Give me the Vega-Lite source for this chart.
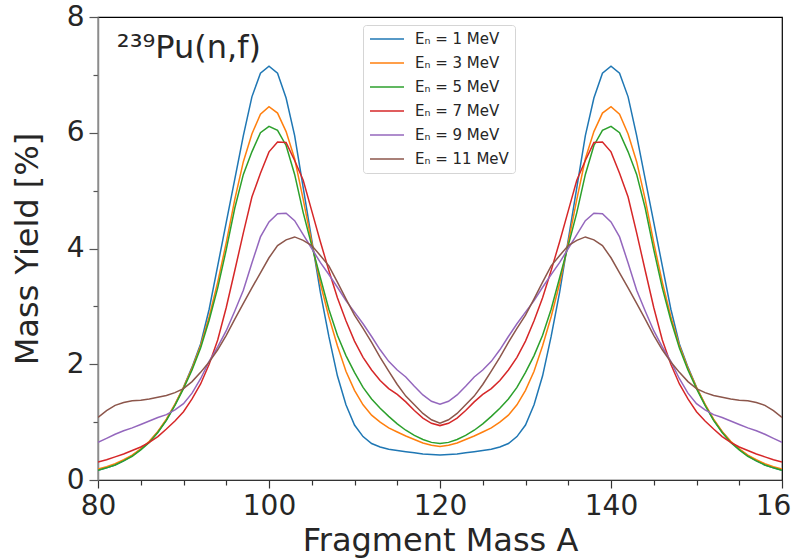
{
  "$schema": "https://vega.github.io/schema/vega-lite/v6.json",
  "width": 684,
  "height": 463,
  "autosize": {"type": "none"},
  "padding": {"left": 98, "top": 17, "right": 10, "bottom": 78},
  "background": "white",
  "config": {
    "font": "DejaVu Sans",
    "view": {"stroke": "black", "strokeWidth": 1.2},
    "axis": {"grid": false}
  },
  "data": {
    "values": [
      {"A": 80, "E1": 0.17, "E3": 0.19, "E5": 0.17, "E7": 0.31, "E9": 0.65, "E11": 1.08},
      {"A": 81, "E1": 0.21, "E3": 0.23, "E5": 0.21, "E7": 0.35, "E9": 0.72, "E11": 1.20},
      {"A": 82, "E1": 0.26, "E3": 0.28, "E5": 0.26, "E7": 0.40, "E9": 0.79, "E11": 1.29},
      {"A": 83, "E1": 0.33, "E3": 0.35, "E5": 0.33, "E7": 0.45, "E9": 0.85, "E11": 1.34},
      {"A": 84, "E1": 0.42, "E3": 0.43, "E5": 0.41, "E7": 0.51, "E9": 0.90, "E11": 1.37},
      {"A": 85, "E1": 0.53, "E3": 0.54, "E5": 0.52, "E7": 0.57, "E9": 0.96, "E11": 1.38},
      {"A": 86, "E1": 0.66, "E3": 0.67, "E5": 0.65, "E7": 0.65, "E9": 1.02, "E11": 1.40},
      {"A": 87, "E1": 0.83, "E3": 0.84, "E5": 0.82, "E7": 0.75, "E9": 1.08, "E11": 1.43},
      {"A": 88, "E1": 1.04, "E3": 1.05, "E5": 1.03, "E7": 0.88, "E9": 1.13, "E11": 1.46},
      {"A": 89, "E1": 1.30, "E3": 1.31, "E5": 1.29, "E7": 1.02, "E9": 1.21, "E11": 1.51},
      {"A": 90, "E1": 1.60, "E3": 1.60, "E5": 1.58, "E7": 1.18, "E9": 1.32, "E11": 1.58},
      {"A": 91, "E1": 1.95, "E3": 1.93, "E5": 1.90, "E7": 1.40, "E9": 1.50, "E11": 1.70},
      {"A": 92, "E1": 2.35, "E3": 2.32, "E5": 2.28, "E7": 1.66, "E9": 1.75, "E11": 1.86},
      {"A": 93, "E1": 2.95, "E3": 2.82, "E5": 2.76, "E7": 2.00, "E9": 2.05, "E11": 2.04},
      {"A": 94, "E1": 3.70, "E3": 3.42, "E5": 3.32, "E7": 2.42, "E9": 2.30, "E11": 2.25},
      {"A": 95, "E1": 4.45, "E3": 4.10, "E5": 3.98, "E7": 2.98, "E9": 2.58, "E11": 2.50},
      {"A": 96, "E1": 5.20, "E3": 4.85, "E5": 4.70, "E7": 3.62, "E9": 2.92, "E11": 2.78},
      {"A": 97, "E1": 5.95, "E3": 5.50, "E5": 5.28, "E7": 4.27, "E9": 3.28, "E11": 3.05},
      {"A": 98, "E1": 6.62, "E3": 5.98, "E5": 5.67, "E7": 4.89, "E9": 3.75, "E11": 3.32},
      {"A": 99, "E1": 7.03, "E3": 6.32, "E5": 6.00, "E7": 5.30, "E9": 4.20, "E11": 3.58},
      {"A": 100, "E1": 7.15, "E3": 6.45, "E5": 6.11, "E7": 5.67, "E9": 4.46, "E11": 3.84},
      {"A": 101, "E1": 7.03, "E3": 6.34, "E5": 6.04, "E7": 5.84, "E9": 4.60, "E11": 4.05},
      {"A": 102, "E1": 6.60, "E3": 6.02, "E5": 5.78, "E7": 5.83, "E9": 4.61, "E11": 4.15},
      {"A": 103, "E1": 5.95, "E3": 5.55, "E5": 5.28, "E7": 5.52, "E9": 4.48, "E11": 4.20},
      {"A": 104, "E1": 5.05, "E3": 4.85, "E5": 4.62, "E7": 5.18, "E9": 4.24, "E11": 4.14},
      {"A": 105, "E1": 4.15, "E3": 4.10, "E5": 4.05, "E7": 4.65, "E9": 4.00, "E11": 4.05},
      {"A": 106, "E1": 3.25, "E3": 3.40, "E5": 3.50, "E7": 4.12, "E9": 3.76, "E11": 3.88},
      {"A": 107, "E1": 2.48, "E3": 2.82, "E5": 2.95, "E7": 3.62, "E9": 3.55, "E11": 3.70},
      {"A": 108, "E1": 1.80, "E3": 2.32, "E5": 2.50, "E7": 3.15, "E9": 3.33, "E11": 3.42},
      {"A": 109, "E1": 1.30, "E3": 1.88, "E5": 2.15, "E7": 2.75, "E9": 3.10, "E11": 3.13},
      {"A": 110, "E1": 0.95, "E3": 1.55, "E5": 1.86, "E7": 2.40, "E9": 2.90, "E11": 2.85},
      {"A": 111, "E1": 0.75, "E3": 1.30, "E5": 1.60, "E7": 2.12, "E9": 2.70, "E11": 2.62},
      {"A": 112, "E1": 0.63, "E3": 1.12, "E5": 1.40, "E7": 1.90, "E9": 2.48, "E11": 2.38},
      {"A": 113, "E1": 0.57, "E3": 1.00, "E5": 1.24, "E7": 1.72, "E9": 2.25, "E11": 2.12},
      {"A": 114, "E1": 0.53, "E3": 0.90, "E5": 1.10, "E7": 1.58, "E9": 2.05, "E11": 1.88},
      {"A": 115, "E1": 0.51, "E3": 0.83, "E5": 0.97, "E7": 1.48, "E9": 1.90, "E11": 1.65},
      {"A": 116, "E1": 0.49, "E3": 0.76, "E5": 0.86, "E7": 1.35, "E9": 1.78, "E11": 1.45},
      {"A": 117, "E1": 0.47, "E3": 0.70, "E5": 0.77, "E7": 1.20, "E9": 1.62, "E11": 1.30},
      {"A": 118, "E1": 0.45, "E3": 0.64, "E5": 0.70, "E7": 1.07, "E9": 1.47, "E11": 1.15},
      {"A": 119, "E1": 0.44, "E3": 0.60, "E5": 0.65, "E7": 0.98, "E9": 1.36, "E11": 1.04},
      {"A": 120, "E1": 0.43, "E3": 0.58, "E5": 0.63, "E7": 0.94, "E9": 1.31, "E11": 0.98},
      {"A": 121, "E1": 0.44, "E3": 0.60, "E5": 0.65, "E7": 0.98, "E9": 1.36, "E11": 1.04},
      {"A": 122, "E1": 0.45, "E3": 0.64, "E5": 0.70, "E7": 1.07, "E9": 1.47, "E11": 1.15},
      {"A": 123, "E1": 0.47, "E3": 0.70, "E5": 0.77, "E7": 1.20, "E9": 1.62, "E11": 1.30},
      {"A": 124, "E1": 0.49, "E3": 0.76, "E5": 0.86, "E7": 1.35, "E9": 1.78, "E11": 1.45},
      {"A": 125, "E1": 0.51, "E3": 0.83, "E5": 0.97, "E7": 1.48, "E9": 1.90, "E11": 1.65},
      {"A": 126, "E1": 0.53, "E3": 0.90, "E5": 1.10, "E7": 1.58, "E9": 2.05, "E11": 1.88},
      {"A": 127, "E1": 0.57, "E3": 1.00, "E5": 1.24, "E7": 1.72, "E9": 2.25, "E11": 2.12},
      {"A": 128, "E1": 0.63, "E3": 1.12, "E5": 1.40, "E7": 1.90, "E9": 2.48, "E11": 2.38},
      {"A": 129, "E1": 0.75, "E3": 1.30, "E5": 1.60, "E7": 2.12, "E9": 2.70, "E11": 2.62},
      {"A": 130, "E1": 0.95, "E3": 1.55, "E5": 1.86, "E7": 2.40, "E9": 2.90, "E11": 2.85},
      {"A": 131, "E1": 1.30, "E3": 1.88, "E5": 2.15, "E7": 2.75, "E9": 3.10, "E11": 3.13},
      {"A": 132, "E1": 1.80, "E3": 2.32, "E5": 2.50, "E7": 3.15, "E9": 3.33, "E11": 3.42},
      {"A": 133, "E1": 2.48, "E3": 2.82, "E5": 2.95, "E7": 3.62, "E9": 3.55, "E11": 3.70},
      {"A": 134, "E1": 3.25, "E3": 3.40, "E5": 3.50, "E7": 4.12, "E9": 3.76, "E11": 3.88},
      {"A": 135, "E1": 4.15, "E3": 4.10, "E5": 4.05, "E7": 4.65, "E9": 4.00, "E11": 4.05},
      {"A": 136, "E1": 5.05, "E3": 4.85, "E5": 4.62, "E7": 5.18, "E9": 4.24, "E11": 4.14},
      {"A": 137, "E1": 5.95, "E3": 5.55, "E5": 5.28, "E7": 5.52, "E9": 4.48, "E11": 4.20},
      {"A": 138, "E1": 6.60, "E3": 6.02, "E5": 5.78, "E7": 5.83, "E9": 4.61, "E11": 4.15},
      {"A": 139, "E1": 7.03, "E3": 6.34, "E5": 6.04, "E7": 5.84, "E9": 4.60, "E11": 4.05},
      {"A": 140, "E1": 7.15, "E3": 6.45, "E5": 6.11, "E7": 5.67, "E9": 4.46, "E11": 3.84},
      {"A": 141, "E1": 7.03, "E3": 6.32, "E5": 6.00, "E7": 5.30, "E9": 4.20, "E11": 3.58},
      {"A": 142, "E1": 6.62, "E3": 5.98, "E5": 5.67, "E7": 4.89, "E9": 3.75, "E11": 3.32},
      {"A": 143, "E1": 5.95, "E3": 5.50, "E5": 5.28, "E7": 4.27, "E9": 3.28, "E11": 3.05},
      {"A": 144, "E1": 5.20, "E3": 4.85, "E5": 4.70, "E7": 3.62, "E9": 2.92, "E11": 2.78},
      {"A": 145, "E1": 4.45, "E3": 4.10, "E5": 3.98, "E7": 2.98, "E9": 2.58, "E11": 2.50},
      {"A": 146, "E1": 3.70, "E3": 3.42, "E5": 3.32, "E7": 2.42, "E9": 2.30, "E11": 2.25},
      {"A": 147, "E1": 2.95, "E3": 2.82, "E5": 2.76, "E7": 2.00, "E9": 2.05, "E11": 2.04},
      {"A": 148, "E1": 2.35, "E3": 2.32, "E5": 2.28, "E7": 1.66, "E9": 1.75, "E11": 1.86},
      {"A": 149, "E1": 1.95, "E3": 1.93, "E5": 1.90, "E7": 1.40, "E9": 1.50, "E11": 1.70},
      {"A": 150, "E1": 1.60, "E3": 1.60, "E5": 1.58, "E7": 1.18, "E9": 1.32, "E11": 1.58},
      {"A": 151, "E1": 1.30, "E3": 1.31, "E5": 1.29, "E7": 1.02, "E9": 1.21, "E11": 1.51},
      {"A": 152, "E1": 1.04, "E3": 1.05, "E5": 1.03, "E7": 0.88, "E9": 1.13, "E11": 1.46},
      {"A": 153, "E1": 0.83, "E3": 0.84, "E5": 0.82, "E7": 0.75, "E9": 1.08, "E11": 1.43},
      {"A": 154, "E1": 0.66, "E3": 0.67, "E5": 0.65, "E7": 0.65, "E9": 1.02, "E11": 1.40},
      {"A": 155, "E1": 0.53, "E3": 0.54, "E5": 0.52, "E7": 0.57, "E9": 0.96, "E11": 1.38},
      {"A": 156, "E1": 0.42, "E3": 0.43, "E5": 0.41, "E7": 0.51, "E9": 0.90, "E11": 1.37},
      {"A": 157, "E1": 0.33, "E3": 0.35, "E5": 0.33, "E7": 0.45, "E9": 0.85, "E11": 1.34},
      {"A": 158, "E1": 0.26, "E3": 0.28, "E5": 0.26, "E7": 0.40, "E9": 0.79, "E11": 1.29},
      {"A": 159, "E1": 0.21, "E3": 0.23, "E5": 0.21, "E7": 0.35, "E9": 0.72, "E11": 1.20},
      {"A": 160, "E1": 0.17, "E3": 0.19, "E5": 0.17, "E7": 0.31, "E9": 0.65, "E11": 1.08}
    ]
  },
  "layer": [
    {
      "transform": [{"fold": ["E1", "E3", "E5", "E7", "E9", "E11"], "as": ["E", "Y"]}],
      "mark": {"type": "line", "strokeWidth": 1.5, "clip": true},
      "encoding": {
        "x": {
          "field": "A", "type": "quantitative",
          "scale": {"domain": [80, 160], "nice": false, "zero": false},
          "axis": {
            "values": [80, 85, 90, 95, 100, 105, 110, 115, 120, 125, 130, 135, 140, 145, 150, 155, 160],
            "format": "d",
            "labelExpr": "datum.value % 20 === 0 ? datum.label : ''",
            "tickSize": {"condition": {"test": "datum.value % 20 === 0", "value": 8}, "value": 5},
            "labelFontSize": 28, "labelPadding": 4, "labelColor": "#262626",
            "labelOverlap": false, "labelFlush": false,
            "domainColor": "#333", "tickColor": "#333", "tickWidth": 1.2, "domainWidth": 1.2,
            "title": "Fragment Mass A", "titleFontSize": 32, "titleFontWeight": "normal",
            "titleColor": "#262626", "titlePadding": 5
          }
        },
        "y": {
          "field": "Y", "type": "quantitative",
          "scale": {"domain": [0, 8], "nice": false},
          "axis": {
            "values": [0, 1, 2, 3, 4, 5, 6, 7, 8],
            "format": "d",
            "labelExpr": "datum.value % 2 === 0 ? datum.label : ''",
            "tickSize": {"condition": {"test": "datum.value % 2 === 0", "value": 9}, "value": 5},
            "labelFontSize": 28, "labelPadding": 5, "labelColor": "#262626",
            "labelOverlap": false, "labelFlush": false,
            "domainColor": "#8c8c8c", "tickColor": "#555", "tickWidth": 1.2, "domainWidth": 1.5,
            "title": "Mass Yield [%]", "titleFontSize": 32, "titleFontWeight": "normal",
            "titleColor": "#262626", "titlePadding": 22
          }
        },
        "color": {
          "field": "E", "type": "nominal",
          "scale": {
            "domain": ["E1", "E3", "E5", "E7", "E9", "E11"],
            "range": ["#1f77b4", "#ff7f0e", "#2ca02c", "#d62728", "#9467bd", "#8c564b"]
          },
          "legend": {
            "orient": "none", "legendX": 265, "legendY": 8, "title": null,
            "labelExpr": "'Eₙ = ' + substring(datum.label, 1) + ' MeV'",
            "labelFontSize": 15, "labelColor": "#262626",
            "symbolType": "M-2.43,0H2.43", "symbolSize": 196, "symbolStrokeWidth": 1.5,
            "symbolOffset": 10, "labelOffset": 20, "rowPadding": 8, "padding": 6,
            "fillColor": "white", "strokeColor": "#d5d5d5", "cornerRadius": 3
          }
        }
      }
    },
    {
      "data": {"values": [{"label": "²³⁹Pu(n,f)"}]},
      "mark": {"type": "text", "fontSize": 32, "align": "left", "baseline": "alphabetic", "color": "#262626"},
      "encoding": {
        "text": {"field": "label", "type": "nominal"},
        "x": {"datum": 82.2, "type": "quantitative"},
        "y": {"datum": 7.3, "type": "quantitative"}
      }
    }
  ]
}
